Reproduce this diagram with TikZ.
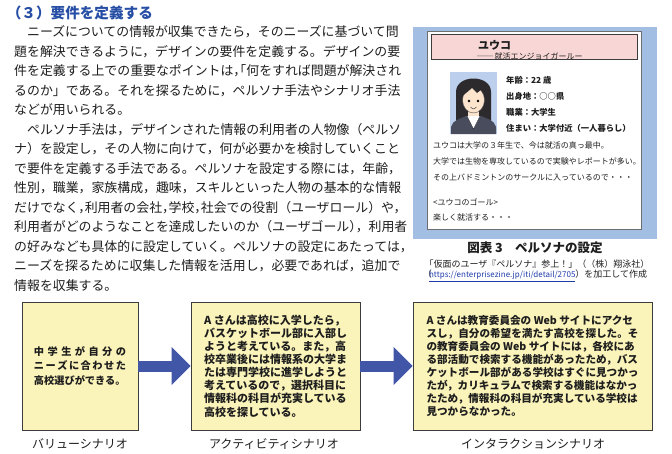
\documentclass[tikz,border=0pt]{standalone}
\usepackage{fontspec}
\setmainfont{Noto Sans CJK JP}
\usetikzlibrary{arrows.meta}
\definecolor{headblue}{RGB}{38,78,165}
\definecolor{txt}{RGB}{30,30,30}
\definecolor{panelblue}{RGB}{163,190,227}
\definecolor{pinkbox}{RGB}{248,214,214}
\definecolor{cardline}{RGB}{110,110,110}
\definecolor{boxyellow}{RGB}{251,244,186}
\definecolor{boxline}{RGB}{60,60,60}
\definecolor{arrowblue}{RGB}{66,86,168}
\definecolor{photobg}{RGB}{188,208,238}
\definecolor{hair}{RGB}{45,42,45}
\definecolor{skin}{RGB}{252,228,205}
\definecolor{suit}{RGB}{72,76,92}
\definecolor{urlblue}{RGB}{30,60,170}
\newcommand\bodyln[3]{\node[bodytxt] (#1) at (14,#2) {#3};}
\newcommand\cm{，\kern-.5em}
\tikzset{
  bodytxt/.style={anchor=west, inner sep=0pt, text=txt, font=\fontsize{12.9}{12.9}\selectfont},
  cardtxt/.style={anchor=west, inner sep=0pt, text=txt, font=\fontsize{8}{8}\selectfont},
  detailtxt/.style={anchor=west, inner sep=0pt, text=txt, font=\bfseries\fontsize{8.3}{8.3}\selectfont},
  scenbox/.style={draw=boxline, line width=0.8pt, fill=boxyellow, inner sep=0pt, text=txt},
  scenlabel/.style={inner sep=0pt, text=txt, font=\fontsize{12}{12}\selectfont},
  flowarrow/.style={draw=arrowblue, line width=11pt, -{Triangle[length=19pt,width=37pt]}},
}
\begin{document}
\begin{tikzpicture}[x=1pt,y=-1pt]
\useasboundingbox[fill=white] (0,0) rectangle (672,453);

% heading
\node[anchor=west, inner sep=0pt, text=headblue, font=\bfseries\fontsize{14.6}{14.6}\selectfont] (head) at (6.7,13) {（３）要件を定義する};

% body text
\bodyln{l1}{32}{　ニーズについての情報が収集できたら，そのニーズに基づいて問}
\bodyln{l2}{51.5}{題を解決できるように，デザインの要件を定義する。デザインの要}
\bodyln{l3}{71}{件を定義する上での重要なポイントは，\kern-1em「何をすれば問題が解決され}
\bodyln{l4}{90.5}{るのか」である。それを探るために，ペルソナ手法やシナリオ手法}
\bodyln{l5}{110}{などが用いられる。}
\bodyln{l6}{129.5}{　ペルソナ手法は，デザインされた情報の利用者の人物像（ペルソ}
\bodyln{l7}{149}{ナ）を設定し，その人物に向けて，何が必要かを検討していくこと}
\bodyln{l8}{168.5}{で要件を定義する手法である。ペルソナを設定する際には，年齢，}
\bodyln{l9}{188}{性別，職業，家族構成，趣味，スキルといった人物の基本的な情報}
\bodyln{l10}{207.5}{だけでなく\cm 利用者の会社\cm 学校\cm 社会での役割（ユーザロール）や，}
\bodyln{l11}{227}{利用者がどのようなことを達成したいのか（ユーザゴール）\kern-.5em，利用者}
\bodyln{l12}{246.5}{の好みなども具体的に設定していく。ペルソナの設定にあたっては，}
\bodyln{l13}{266}{ニーズを探るために収集した情報を活用し，必要であれば，追加で}
\bodyln{l14}{285.5}{情報を収集する。}

% persona panel
\fill[panelblue] (413,27) rectangle (657,239);
\draw[cardline, fill=white, line width=0.8pt] (427,31) rectangle (641,229);
\draw[boxline, fill=pinkbox, line width=0.8pt] (431,34.5) rectangle (637.5,59);
\node[anchor=west, inner sep=0pt, text=txt, font=\bfseries\fontsize{11}{11}\selectfont] (name) at (478,45) {ユウコ};
\node[anchor=west, inner sep=0pt, text=txt, font=\fontsize{8}{8}\selectfont] (sub) at (477,56) {──\,就活エンジョイガールー};

% photo
\fill[photobg] (450,72) rectangle (497,134);
\fill[hair] (456,122) -- (456,92) .. controls (456,74) and (491,74) .. (491,92) -- (491,122) -- cycle;
\fill[skin] (468,108) rectangle (479,119);
\fill[suit] (451,134) -- (451,127) .. controls (452,120) and (462,118) .. (466,116) -- (481,116) .. controls (485,118) and (495,120) .. (496,127) -- (496,134) -- cycle;
\fill[white] (467,116) -- (473.5,129) -- (480,116) -- cycle;
\draw[suit!60!black, line width=0.4pt] (467,116) -- (473.5,129) -- (480,116);
\fill[skin] (473.5,100) ellipse (11 and 13);
\draw[black!70, line width=0.4pt] (473.5,100) ellipse (11 and 13);
\fill[hair] (461.5,97) .. controls (461,80) and (486,80) .. (485.5,97) -- (482,89) -- (477,93) -- (472,88) -- (466,93) -- cycle;
\fill[black] (469,101) circle (1.4);
\fill[black] (478,101) circle (1.4);
\draw[black!70, line width=0.5pt] (470.5,107) .. controls (473.5,109.5) .. (476.5,107);

% details
\node[detailtxt] (d1) at (506,80) {年齢：22 歳};
\node[detailtxt] (d2) at (506,96) {出身地：○○県};
\node[detailtxt] (d3) at (506,112) {職業：大学生};
\node[detailtxt] (d4) at (506,128) {住まい：大学付近（一人暮らし）};

\node[cardtxt] (c1) at (433,145.5) {ユウコは大学の３年生で、今は就活の真っ最中。};
\node[cardtxt] (c2) at (433,161.5) {大学では生物を専攻しているので実験やレポートが多い。};
\node[cardtxt] (c3) at (433,177.5) {その上バドミントンのサークルに入っているので・・・};
\node[cardtxt] (c4) at (433,202) {<ユウコのゴール>};
\node[cardtxt] (c5) at (433,217.5) {楽しく就活する・・・};

% caption
\node[inner sep=0pt, text=txt, font=\bfseries\fontsize{12.5}{12.5}\selectfont] (cap) at (535,248) {図表 3　ペルソナの設定};
\node[inner sep=0pt, text=txt, font=\fontsize{9}{9}\selectfont] (src1) at (537,264) {「仮面のユーザ『ペルソナ』参上！」（（株）翔泳社）};
\node[inner sep=0pt, text=txt, font=\fontsize{9}{9}\selectfont] (src2) at (535,276) {（\kern-.3em{\fontsize{8}{8}\selectfont\color{urlblue}\underline{https://enterprisezine.jp/iti/detail/2705}}）を加工して作成};

% scenario boxes
\node[scenbox, minimum width=116pt, minimum height=128pt, align=center,
      font=\bfseries\fontsize{10.2}{14.5}\selectfont] (b1) at (80,366)
  {\makebox[92pt][s]{中\hfil 学\hfil 生\hfil が\hfil 自\hfil 分\hfil の}\\
   \makebox[92pt][s]{ニ\hfil ー\hfil ズ\hfil に\hfil 合\hfil わ\hfil せ\hfil た}\\
   \makebox[92pt][s]{高校選びができる。}};
\node[scenbox, minimum width=169pt, minimum height=128pt, align=left,
      font=\bfseries\fontsize{11}{13.1}\selectfont] (b2) at (275.5,366)
  {A さんは高校に入学したら，\\
   バスケットボール部に入部し\\
   ようと考えている。また，高\\
   校卒業後には情報系の大学ま\\
   たは専門学校に進学しようと\\
   考えているので，選択科目に\\
   情報科の科目が充実している\\
   高校を探している。};
\node[scenbox, minimum width=239pt, minimum height=128pt, align=left,
      font=\bfseries\fontsize{10.6}{12.9}\selectfont] (b3) at (532.5,366)
  {A さんは教育委員会の Web サイトにアクセ\\
   スし，自分の希望を満たす高校を探した。そ\\
   の教育委員会の Web サイトには，各校にあ\\
   る部活動で検索する機能があったため，バス\\
   ケットボール部がある学校はすぐに見つかっ\\
   たが，カリキュラムで検索する機能はなかっ\\
   たため，情報科の科目が充実している学校は\\
   見つからなかった。};

\draw[flowarrow] (b1.east) -- (b2.west);
\draw[flowarrow] (b2.east) -- (b3.west);

\node[scenlabel] (lab1) at (80,444) {バリューシナリオ};
\node[scenlabel] (lab2) at (274,444) {アクティビティシナリオ};
\node[scenlabel] (lab3) at (533,444) {インタラクションシナリオ};
\end{tikzpicture}
\end{document}
